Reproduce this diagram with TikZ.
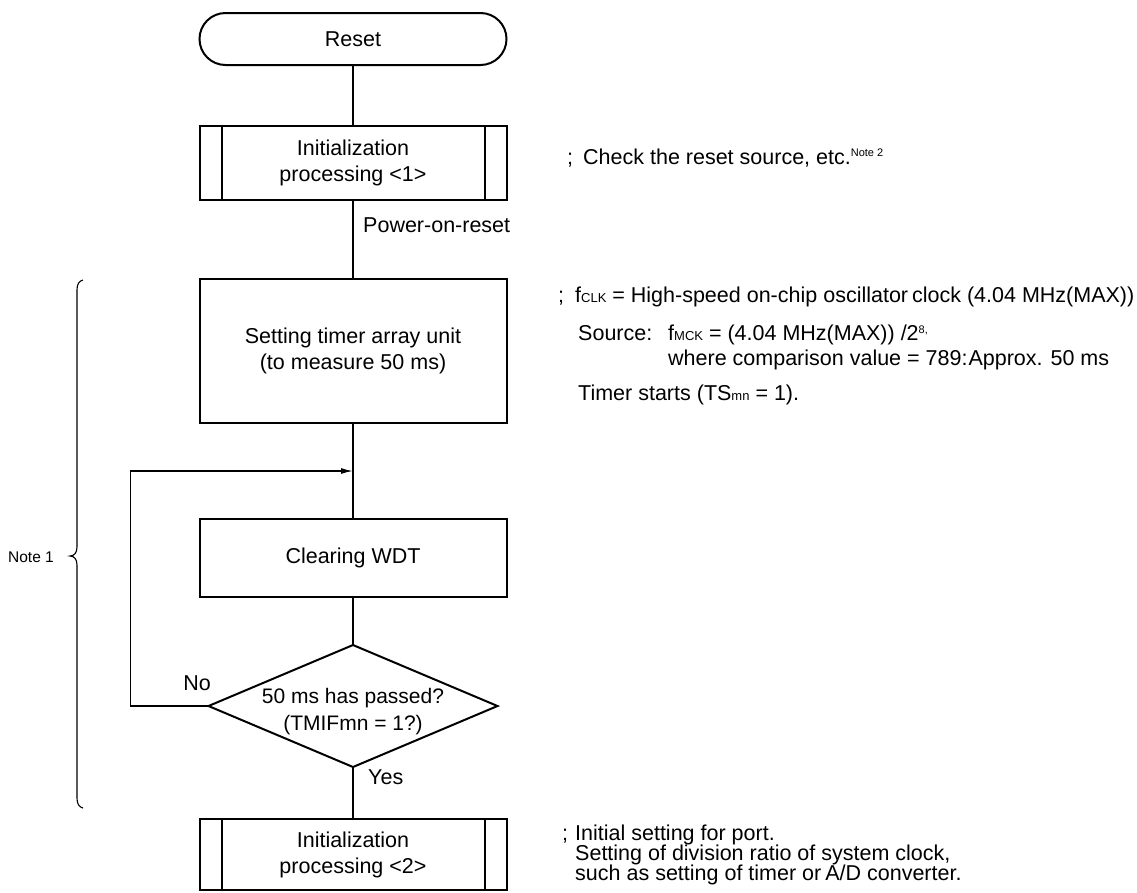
\documentclass[tikz,border=0pt]{standalone}
\usepackage{fontspec}
\setmainfont{Liberation Sans}
\usetikzlibrary{arrows.meta,shapes.geometric}
\newcommand\diagfont{\fontsize{21.5}{26}\selectfont}
\newcommand\subfnt{\fontsize{13}{13}\selectfont}
\newcommand\supfnt{\fontsize{11}{11}\selectfont}
\begin{document}
\begin{tikzpicture}[x=1pt,y=-1pt,
  box/.style={draw,line width=2pt,minimum width=307pt,inner sep=0pt,outer sep=0pt,align=center,font=\diagfont},
  conn/.style={line width=1.4pt},
  lbl/.style={inner sep=0pt,font=\diagfont},
  rt/.style={inner sep=0pt,font=\diagfont,anchor=base west}]
\useasboundingbox (0,0) rectangle (1137,892);

% main flow
\node[box,minimum height=52pt,rounded corners=26pt] (reset) at (353,39) {Reset};
\node[box,minimum height=74pt] (init1) at (353,163) {Initialization\\processing <1>};
\draw[line width=2pt] ([xshift=22pt]init1.north west) -- ([xshift=22pt]init1.south west);
\draw[line width=2pt] ([xshift=-22pt]init1.north east) -- ([xshift=-22pt]init1.south east);
\node[box,minimum height=144pt] (setting) at (353,351) {Setting timer array unit\\(to measure 50 ms)};
\node[box,minimum height=78pt] (clear) at (353,558) {Clearing WDT};
\node[diamond,draw,line width=2pt,minimum width=289pt,minimum height=122pt,inner sep=0pt,outer sep=0pt] (dec) at (353,706) {};
\node[lbl,align=center,font=\fontsize{21}{27}\selectfont] (dectext) at (353,712) {50 ms has passed?\\(TMIFmn = 1?)};
\node[box,minimum height=71pt] (init2) at (353,854.5) {Initialization\\processing <2>};
\draw[line width=2pt] ([xshift=22pt]init2.north west) -- ([xshift=22pt]init2.south west);
\draw[line width=2pt] ([xshift=-22pt]init2.north east) -- ([xshift=-22pt]init2.south east);

% connectors
\coordinate (loopin) at (353,471);
\draw[conn] (reset) -- (init1);
\draw[conn] (init1) -- (setting);
\draw[conn] (setting) -- (clear);
\draw[conn] (clear) -- (dec);
\draw[conn] (dec) -- (init2);
\draw[conn,-{Latex[length=12pt,width=6pt]}] (dec.west) -- ++(-78,0) |- (loopin);

% labels on flow
\node[rt] (por) at (363,232) {Power-on-reset};
\node[lbl] (no) at (197,683) {No};
\node[lbl,anchor=west] (yes) at (368,777) {Yes};

% brace and Note 1
\draw[line width=1.1pt] (83,280) .. controls (79,281) and (77,284) .. (77,290) -- (77,547)
  .. controls (77,553) and (74,556) .. (70,556)
  .. controls (74,556) and (77,559) .. (77,565) -- (77,798)
  .. controls (77,804) and (79,807) .. (83,808);
\node[inner sep=0pt,font=\fontsize{15.5}{18}\selectfont] (note1) at (31,557) {Note 1};

% right-hand comments
\node[rt] (c1) at (567,164) {;\hspace{10pt}Check the reset source, etc.\raisebox{8pt}{\supfnt Note 2}};
\node[rt] (c2) at (558,302) {;\hspace{11pt}f{\subfnt CLK} = High-speed on-chip oscillator\hspace{-2pt} clock (4.04 MHz(MAX))};
\node[rt] (c3) at (578,340) {Source:};
\node[rt] (c4) at (668,340) {f{\subfnt MCK} = (4.04 MHz(MAX)) /2\raisebox{7pt}{\supfnt 8,}};
\node[rt] (c5) at (668,365) {where comparison value = 789:\hspace{1pt}Approx. 50 ms};
\node[rt] (c6) at (578,400) {Timer starts (TS{\subfnt mn} = 1).};
\node[rt] (c7) at (562,840) {;\hspace{7pt}Initial setting for port.};
\node[rt] (c8) at (575,860) {Setting of division ratio of system clock,};
\node[rt] (c9) at (575,880) {such as setting of timer or\hspace{-2pt} A/D converter.};
\end{tikzpicture}
\end{document}
